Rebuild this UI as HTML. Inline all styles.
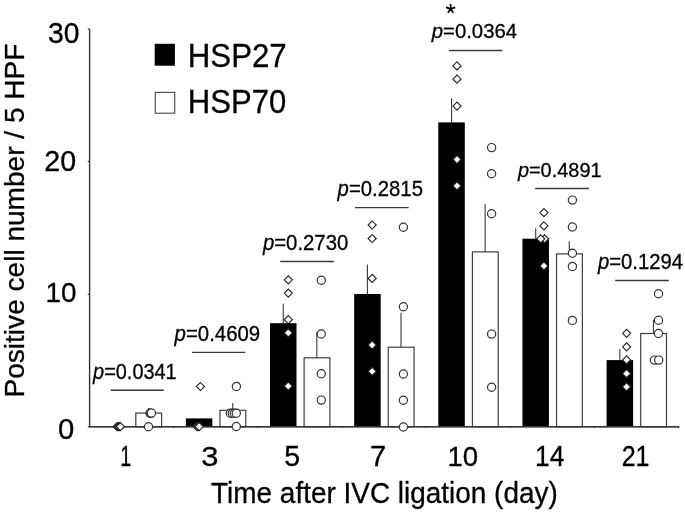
<!DOCTYPE html><html><head><meta charset="utf-8"><style>html,body{margin:0;padding:0;background:#fff;}svg{display:block;will-change:transform;}text{font-family:"Liberation Sans",sans-serif;fill:#000;stroke:#000;stroke-width:0.3px;}</style></head><body>
<svg width="685" height="513" viewBox="0 0 685 513">
<rect width="685" height="513" fill="#fff"/>
<path d="M89.6 29 V426.7 H679.2" fill="none" stroke="#333" stroke-width="1.4"/>
<path d="M87.8 29.0 H89.6" stroke="#333" stroke-width="1.2"/>
<path d="M87.8 161.5 H89.6" stroke="#333" stroke-width="1.2"/>
<path d="M87.8 294.3 H89.6" stroke="#333" stroke-width="1.2"/>
<path d="M87.8 426.7 H89.6" stroke="#333" stroke-width="1.2"/>
<path d="M173.6 426.7 V428.0" stroke="#333" stroke-width="1.1"/>
<path d="M257.7 426.7 V428.0" stroke="#333" stroke-width="1.1"/>
<path d="M341.9 426.7 V428.0" stroke="#333" stroke-width="1.1"/>
<path d="M426.0 426.7 V428.0" stroke="#333" stroke-width="1.1"/>
<path d="M510.1 426.7 V428.0" stroke="#333" stroke-width="1.1"/>
<path d="M594.3 426.7 V428.0" stroke="#333" stroke-width="1.1"/>
<path d="M678.5 426.7 V428.0" stroke="#333" stroke-width="1.1"/>
<text transform="translate(48.12 42.61) scale(0.9589 1)" font-size="29.52">30</text>
<text transform="translate(44.26 171.42) scale(0.9990 1)" font-size="28.67">20</text>
<text transform="translate(45.58 302.02) scale(0.9821 1)" font-size="28.39">10</text>
<text transform="translate(58.06 439.12) scale(1.0115 1)" font-size="28.95">0</text>
<text transform="translate(120.20 466.00) scale(0.6782 1)" font-size="29.07">1</text>
<text transform="translate(201.22 465.72) scale(1.0921 1)" font-size="28.39">3</text>
<text transform="translate(284.26 465.72) scale(0.9884 1)" font-size="28.81">5</text>
<text transform="translate(370.11 466.00) scale(0.9989 1)" font-size="29.07">7</text>
<text transform="translate(447.50 465.72) scale(0.9764 1)" font-size="28.25">10</text>
<text transform="translate(534.99 466.00) scale(0.9088 1)" font-size="29.07">14</text>
<text transform="translate(621.64 466.00) scale(0.8752 1)" font-size="28.64">21</text>
<text transform="translate(211.07 503.00) scale(0.9562 1)" font-size="29.22">Time after IVC ligation (day)</text>
<text transform="translate(23.8 397.50) rotate(-90) scale(0.9906 1)" font-size="28.34">Positive cell number / 5 HPF</text>
<rect x="154.7" y="43.8" width="20.2" height="21.9" fill="#000"/>
<rect x="155.3" y="92.4" width="19.4" height="20.8" fill="#fff" stroke="#555" stroke-width="1.2"/>
<text transform="translate(187.74 66.80) scale(0.9557 1)" font-size="32.70">HSP27</text>
<text transform="translate(187.75 113.30) scale(0.9608 1)" font-size="32.41">HSP70</text>
<rect x="135.80" y="413.10" width="25.80" height="13.60" fill="#fff" stroke="#404040" stroke-width="1.2"/>
<rect x="185.85" y="418.40" width="26.50" height="8.30" fill="#000"/>
<rect x="219.95" y="410.30" width="25.80" height="16.40" fill="#fff" stroke="#404040" stroke-width="1.2"/>
<rect x="270.00" y="323.20" width="26.50" height="103.50" fill="#000"/>
<rect x="304.10" y="357.80" width="25.80" height="68.90" fill="#fff" stroke="#404040" stroke-width="1.2"/>
<rect x="354.15" y="294.00" width="26.50" height="132.70" fill="#000"/>
<rect x="388.25" y="347.20" width="25.80" height="79.50" fill="#fff" stroke="#404040" stroke-width="1.2"/>
<rect x="438.30" y="122.40" width="26.50" height="304.30" fill="#000"/>
<rect x="472.40" y="251.90" width="25.80" height="174.80" fill="#fff" stroke="#404040" stroke-width="1.2"/>
<rect x="522.45" y="238.70" width="26.50" height="188.00" fill="#000"/>
<rect x="556.55" y="253.90" width="25.80" height="172.80" fill="#fff" stroke="#404040" stroke-width="1.2"/>
<rect x="606.60" y="360.10" width="26.50" height="66.60" fill="#000"/>
<rect x="640.70" y="333.50" width="25.80" height="93.20" fill="#fff" stroke="#404040" stroke-width="1.2"/>
<path d="M89.6 426.7 H679.2" fill="none" stroke="#333" stroke-width="1.2"/>
<path d="M148.55 413.10 V408.10" stroke="#3a3a3a" stroke-width="1.1"/>
<path d="M232.70 410.30 V402.90" stroke="#3a3a3a" stroke-width="1.1"/>
<path d="M283.25 323.20 V303.70" stroke="#3a3a3a" stroke-width="1.1"/>
<path d="M316.85 357.80 V332.00" stroke="#3a3a3a" stroke-width="1.1"/>
<path d="M367.40 294.00 V264.50" stroke="#3a3a3a" stroke-width="1.1"/>
<path d="M401.00 347.20 V312.70" stroke="#3a3a3a" stroke-width="1.1"/>
<path d="M451.55 122.40 V98.30" stroke="#3a3a3a" stroke-width="1.1"/>
<path d="M485.15 251.90 V204.00" stroke="#3a3a3a" stroke-width="1.1"/>
<path d="M535.70 238.70 V228.20" stroke="#3a3a3a" stroke-width="1.1"/>
<path d="M569.30 253.90 V241.20" stroke="#3a3a3a" stroke-width="1.1"/>
<path d="M619.85 360.10 V349.10" stroke="#3a3a3a" stroke-width="1.1"/>
<path d="M653.45 333.50 V319.80" stroke="#3a3a3a" stroke-width="1.1"/>
<path d="M113.05 426.70 l4.05 -4.05 l4.05 4.05 l-4.05 4.05 z" fill="#fff" stroke="#222" stroke-width="1.1"/>
<path d="M114.15 426.70 l4.05 -4.05 l4.05 4.05 l-4.05 4.05 z" fill="#fff" stroke="#222" stroke-width="1.1"/>
<path d="M115.25 426.70 l4.05 -4.05 l4.05 4.05 l-4.05 4.05 z" fill="#fff" stroke="#222" stroke-width="1.1"/>
<path d="M116.35 426.70 l4.05 -4.05 l4.05 4.05 l-4.05 4.05 z" fill="#fff" stroke="#222" stroke-width="1.1"/>
<path d="M196.35 386.50 l4.05 -4.05 l4.05 4.05 l-4.05 4.05 z" fill="#fff" stroke="#222" stroke-width="1.1"/>
<path d="M192.95 426.60 l4.05 -4.05 l4.05 4.05 l-4.05 4.05 z" fill="#fff" stroke="#222" stroke-width="1.1"/>
<path d="M193.95 426.60 l4.05 -4.05 l4.05 4.05 l-4.05 4.05 z" fill="#fff" stroke="#222" stroke-width="1.1"/>
<path d="M195.15 426.60 l4.05 -4.05 l4.05 4.05 l-4.05 4.05 z" fill="#fff" stroke="#222" stroke-width="1.1"/>
<path d="M284.25 279.80 l4.05 -4.05 l4.05 4.05 l-4.05 4.05 z" fill="#fff" stroke="#222" stroke-width="1.1"/>
<path d="M284.25 293.10 l4.05 -4.05 l4.05 4.05 l-4.05 4.05 z" fill="#fff" stroke="#222" stroke-width="1.1"/>
<path d="M284.25 319.70 l4.05 -4.05 l4.05 4.05 l-4.05 4.05 z" fill="#fff" stroke="#222" stroke-width="1.1"/>
<path d="M284.25 332.90 l4.05 -4.05 l4.05 4.05 l-4.05 4.05 z" fill="#fff" stroke="#222" stroke-width="1.1"/>
<path d="M284.25 386.10 l4.05 -4.05 l4.05 4.05 l-4.05 4.05 z" fill="#fff" stroke="#222" stroke-width="1.1"/>
<path d="M368.15 225.00 l4.05 -4.05 l4.05 4.05 l-4.05 4.05 z" fill="#fff" stroke="#222" stroke-width="1.1"/>
<path d="M368.15 238.50 l4.05 -4.05 l4.05 4.05 l-4.05 4.05 z" fill="#fff" stroke="#222" stroke-width="1.1"/>
<path d="M368.15 278.40 l4.05 -4.05 l4.05 4.05 l-4.05 4.05 z" fill="#fff" stroke="#222" stroke-width="1.1"/>
<path d="M368.15 345.00 l4.05 -4.05 l4.05 4.05 l-4.05 4.05 z" fill="#fff" stroke="#222" stroke-width="1.1"/>
<path d="M368.15 371.40 l4.05 -4.05 l4.05 4.05 l-4.05 4.05 z" fill="#fff" stroke="#222" stroke-width="1.1"/>
<path d="M452.95 65.90 l4.05 -4.05 l4.05 4.05 l-4.05 4.05 z" fill="#fff" stroke="#222" stroke-width="1.1"/>
<path d="M452.95 79.20 l4.05 -4.05 l4.05 4.05 l-4.05 4.05 z" fill="#fff" stroke="#222" stroke-width="1.1"/>
<path d="M452.95 106.10 l4.05 -4.05 l4.05 4.05 l-4.05 4.05 z" fill="#fff" stroke="#222" stroke-width="1.1"/>
<path d="M452.95 159.50 l4.05 -4.05 l4.05 4.05 l-4.05 4.05 z" fill="#fff" stroke="#222" stroke-width="1.1"/>
<path d="M452.95 185.80 l4.05 -4.05 l4.05 4.05 l-4.05 4.05 z" fill="#fff" stroke="#222" stroke-width="1.1"/>
<path d="M539.85 212.60 l4.05 -4.05 l4.05 4.05 l-4.05 4.05 z" fill="#fff" stroke="#222" stroke-width="1.1"/>
<path d="M539.85 225.90 l4.05 -4.05 l4.05 4.05 l-4.05 4.05 z" fill="#fff" stroke="#222" stroke-width="1.1"/>
<path d="M540.55 238.80 l4.05 -4.05 l4.05 4.05 l-4.05 4.05 z" fill="#fff" stroke="#222" stroke-width="1.1"/>
<path d="M536.65 238.80 l4.05 -4.05 l4.05 4.05 l-4.05 4.05 z" fill="#fff" stroke="#222" stroke-width="1.1"/>
<path d="M539.85 265.90 l4.05 -4.05 l4.05 4.05 l-4.05 4.05 z" fill="#fff" stroke="#222" stroke-width="1.1"/>
<path d="M622.55 333.30 l4.05 -4.05 l4.05 4.05 l-4.05 4.05 z" fill="#fff" stroke="#222" stroke-width="1.1"/>
<path d="M622.55 346.80 l4.05 -4.05 l4.05 4.05 l-4.05 4.05 z" fill="#fff" stroke="#222" stroke-width="1.1"/>
<path d="M622.55 359.90 l4.05 -4.05 l4.05 4.05 l-4.05 4.05 z" fill="#fff" stroke="#222" stroke-width="1.1"/>
<path d="M622.55 373.60 l4.05 -4.05 l4.05 4.05 l-4.05 4.05 z" fill="#fff" stroke="#222" stroke-width="1.1"/>
<path d="M622.55 386.80 l4.05 -4.05 l4.05 4.05 l-4.05 4.05 z" fill="#fff" stroke="#222" stroke-width="1.1"/>
<circle cx="150.00" cy="413.20" r="4.1" fill="#fff" stroke="#333" stroke-width="1.2"/>
<circle cx="150.70" cy="413.20" r="4.1" fill="#fff" stroke="#333" stroke-width="1.2"/>
<circle cx="151.40" cy="413.10" r="4.1" fill="#fff" stroke="#333" stroke-width="1.2"/>
<circle cx="148.50" cy="426.80" r="4.1" fill="#fff" stroke="#333" stroke-width="1.2"/>
<circle cx="230.30" cy="413.30" r="4.1" fill="#fff" stroke="#333" stroke-width="1.2"/>
<circle cx="232.30" cy="413.30" r="4.1" fill="#fff" stroke="#333" stroke-width="1.2"/>
<circle cx="234.30" cy="413.30" r="4.1" fill="#fff" stroke="#333" stroke-width="1.2"/>
<circle cx="236.30" cy="413.30" r="4.1" fill="#fff" stroke="#333" stroke-width="1.2"/>
<circle cx="236.30" cy="426.50" r="4.1" fill="#fff" stroke="#333" stroke-width="1.2"/>
<circle cx="236.40" cy="386.40" r="4.1" fill="#fff" stroke="#333" stroke-width="1.2"/>
<circle cx="321.30" cy="280.30" r="4.1" fill="#fff" stroke="#333" stroke-width="1.2"/>
<circle cx="321.30" cy="334.00" r="4.1" fill="#fff" stroke="#333" stroke-width="1.2"/>
<circle cx="321.30" cy="373.70" r="4.1" fill="#fff" stroke="#333" stroke-width="1.2"/>
<circle cx="321.30" cy="400.10" r="4.1" fill="#fff" stroke="#333" stroke-width="1.2"/>
<circle cx="403.40" cy="227.30" r="4.1" fill="#fff" stroke="#333" stroke-width="1.2"/>
<circle cx="403.40" cy="306.80" r="4.1" fill="#fff" stroke="#333" stroke-width="1.2"/>
<circle cx="403.40" cy="374.00" r="4.1" fill="#fff" stroke="#333" stroke-width="1.2"/>
<circle cx="403.40" cy="400.20" r="4.1" fill="#fff" stroke="#333" stroke-width="1.2"/>
<circle cx="403.40" cy="427.00" r="4.1" fill="#fff" stroke="#333" stroke-width="1.2"/>
<circle cx="491.60" cy="147.60" r="4.1" fill="#fff" stroke="#333" stroke-width="1.2"/>
<circle cx="491.60" cy="173.80" r="4.1" fill="#fff" stroke="#333" stroke-width="1.2"/>
<circle cx="491.60" cy="213.70" r="4.1" fill="#fff" stroke="#333" stroke-width="1.2"/>
<circle cx="491.60" cy="334.10" r="4.1" fill="#fff" stroke="#333" stroke-width="1.2"/>
<circle cx="491.60" cy="387.30" r="4.1" fill="#fff" stroke="#333" stroke-width="1.2"/>
<circle cx="572.40" cy="200.10" r="4.1" fill="#fff" stroke="#333" stroke-width="1.2"/>
<circle cx="572.40" cy="227.00" r="4.1" fill="#fff" stroke="#333" stroke-width="1.2"/>
<circle cx="572.40" cy="253.20" r="4.1" fill="#fff" stroke="#333" stroke-width="1.2"/>
<circle cx="572.40" cy="266.40" r="4.1" fill="#fff" stroke="#333" stroke-width="1.2"/>
<circle cx="572.40" cy="320.40" r="4.1" fill="#fff" stroke="#333" stroke-width="1.2"/>
<circle cx="658.50" cy="293.70" r="4.1" fill="#fff" stroke="#333" stroke-width="1.2"/>
<circle cx="658.50" cy="320.20" r="4.1" fill="#fff" stroke="#333" stroke-width="1.2"/>
<circle cx="658.50" cy="333.50" r="4.1" fill="#fff" stroke="#333" stroke-width="1.2"/>
<circle cx="654.40" cy="360.10" r="4.1" fill="#fff" stroke="#333" stroke-width="1.2"/>
<circle cx="658.70" cy="360.10" r="4.1" fill="#fff" stroke="#333" stroke-width="1.2"/>
<path d="M110.6 390.2 H163.8" stroke="#3a3a3a" stroke-width="1.35"/>
<path d="M192.0 352.3 H245.3" stroke="#3a3a3a" stroke-width="1.35"/>
<path d="M280.2 261.5 H333.9" stroke="#3a3a3a" stroke-width="1.35"/>
<path d="M354.9 207.6 H408.6" stroke="#3a3a3a" stroke-width="1.35"/>
<path d="M449.1 50.5 H502.2" stroke="#3a3a3a" stroke-width="1.35"/>
<path d="M535.2 188.5 H588.9" stroke="#3a3a3a" stroke-width="1.35"/>
<path d="M615.2 280.5 H668.9" stroke="#3a3a3a" stroke-width="1.35"/>
<text transform="translate(93.10 378.79) scale(0.9333 1)" font-size="21.33"><tspan font-style="italic">p</tspan>=0.0341</text>
<text transform="translate(174.56 341.19) scale(0.9435 1)" font-size="21.61"><tspan font-style="italic">p</tspan>=0.4609</text>
<text transform="translate(262.91 249.69) scale(0.9411 1)" font-size="21.61"><tspan font-style="italic">p</tspan>=0.2730</text>
<text transform="translate(337.61 196.19) scale(0.9406 1)" font-size="21.61"><tspan font-style="italic">p</tspan>=0.2815</text>
<text transform="translate(431.71 38.40) scale(0.9862 1)" font-size="20.62"><tspan font-style="italic">p</tspan>=0.0364</text>
<text transform="translate(517.90 177.19) scale(0.9470 1)" font-size="21.04"><tspan font-style="italic">p</tspan>=0.4891</text>
<text transform="translate(597.91 269.09) scale(0.9389 1)" font-size="21.61"><tspan font-style="italic">p</tspan>=0.1294</text>
<path d="M450.60 8.90 L450.60 4.10 M450.60 8.90 L455.17 7.42 M450.60 8.90 L453.42 12.78 M450.60 8.90 L447.78 12.78 M450.60 8.90 L446.03 7.42 " stroke="#000" stroke-width="1.75" fill="none"/>
</svg></body></html>
